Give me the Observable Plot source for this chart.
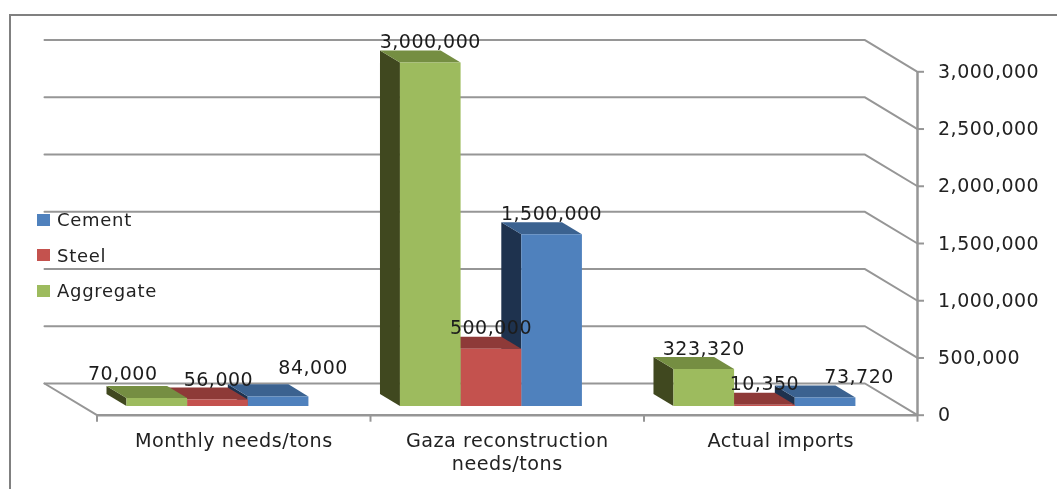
<!DOCTYPE html>
<html>
<head>
<meta charset="utf-8">
<script src="https://cdn.jsdelivr.net/npm/d3@7"></script>
<script src="https://cdn.jsdelivr.net/npm/@observablehq/plot@0.6"></script>
<style>
  html, body { margin: 0; padding: 0; background: #fff; overflow: hidden; }
  #chart { position: relative; width: 1057px; height: 489px; font-family: "DejaVu Sans", sans-serif; color: #222; }
  #chart svg { display: block; overflow: visible; filter: blur(0.35px); }
  #frame { position: absolute; left: 9px; top: 14px; right: 0; bottom: 0; border-left: 2.5px solid #808080; border-top: 2.5px solid #808080; pointer-events: none; }
  #legend { position: absolute; left: 37px; top: 202px; font-size: 18px; letter-spacing: 0.7px; filter: blur(0.35px); }
  #legend div { display: flex; align-items: center; height: 35.6px; }
  #legend i { display: inline-block; width: 13px; height: 12px; margin-right: 7px; }
</style>
</head>
<body>
<div id="chart"><div id="frame"></div><div id="legend"></div></div>
<script>
const categories = ["Monthly needs/tons", "Gaza reconstruction\nneeds/tons", "Actual imports"];
const seriesNames = ["Aggregate", "Steel", "Cement"];
const aggregate = [70000, 3000000, 323320];
const steel = [56000, 500000, 10350];
const cement = [84000, 1500000, 73720];
const yTicks = [0, 500000, 1000000, 1500000, 2000000, 2500000, 3000000];

const series = [aggregate, steel, cement];
const palette = [
  {front: "#9dbb5e", top: "#758e42", side: "#40481f"},
  {front: "#c4524e", top: "#8e3a38", side: "#652927"},
  {front: "#4f81bd", top: "#3b6290", side: "#1e324e"}
];

// oblique projection of the chart box, in scale units
const depthX = 0.192, depthY = 277000;
const barW = 0.2218, dFront = 0.29, dBack = 0.67, barNudge = -0.004;
const project = (x, v, d) => ({x: x - d * depthX, y: v + d * depthY});

const faces = [];
let faceId = 0;
const addFace = (color, pts) => { const id = faceId++; for (const p of pts) faces.push({...p, id, color}); };
categories.forEach((_, i) => {
  for (let k = 2; k >= 0; --k) {
    const v = series[k][i];
    const x0 = i + 0.5 + (k - 1.5) * barW + barNudge;
    const x1 = x0 + barW;
    const c = palette[k];
    addFace(c.side, [project(x0, 0, dFront), project(x0, v, dFront), project(x0, v, dBack), project(x0, 0, dBack)]);
    addFace(c.top, [project(x0, v, dFront), project(x1, v, dFront), project(x1, v, dBack), project(x0, v, dBack)]);
    addFace(c.front, [project(x0, 0, dFront), project(x1, 0, dFront), project(x1, v, dFront), project(x0, v, dFront)]);
  }
});

// wall and side gridlines
const grid = yTicks.flatMap(v => [
  {...project(0, v, 1), v}, {...project(3, v, 1), v}, {...project(3, v, 0), v}
]);
const floorEdge = [project(0, 0, 1), project(0, 0, 0)];
const gridColor = "#969696";

// value labels: moved by hand in the original for the small bars
const labelShift = {"0-0": [-34, -4], "0-1": [1, 1], "0-2": [35, -8], "2-2": [34, 0]};
const labelMarks = [];
categories.forEach((_, i) => {
  series.forEach((s, k) => {
    const x0 = i + 0.5 + (k - 1.5) * barW + barNudge;
    const [dx, dy] = labelShift[`${i}-${k}`] || [0, 0];
    labelMarks.push(Plot.text([s[i]], {
      x: () => x0 + barW / 2 - dFront * depthX,
      y: d => d + dBack * depthY,
      text: d => d3.format(",")(d),
      dx, dy: dy - 8.5,
      fontSize: 19, fill: "#1c1c1c"
    }));
  });
});

const plot = Plot.plot({
  width: 1057,
  height: 489,
  marginLeft: 96.5,
  marginRight: 140,
  marginTop: 71.3,
  marginBottom: 74.3,
  x: {domain: [0, 3], axis: null},
  y: {domain: [0, 3000000], axis: null},
  color: {type: "identity"},
  style: {fontFamily: '"DejaVu Sans", sans-serif', letterSpacing: "0.5px", background: "transparent"},
  marks: [
    Plot.line(grid, {x: "x", y: "y", z: "v", stroke: gridColor, strokeWidth: 2, curve: "linear"}),
    Plot.line(floorEdge, {x: "x", y: "y", stroke: gridColor, strokeWidth: 2}),
    Plot.ruleY([0], {stroke: gridColor, strokeWidth: 2.5}),
    Plot.ruleX([3], {y1: 0, y2: 3000000, stroke: gridColor, strokeWidth: 2.5}),
    Plot.axisX({ticks: [0, 1, 2, 3], tickFormat: () => "", tickSize: 7, stroke: gridColor, strokeWidth: 2, label: null}),
    Plot.axisY({anchor: "right", ticks: yTicks, tickFormat: d3.format(","), tickSize: 6, tickPadding: 14.5, stroke: gridColor, strokeWidth: 2, fill: "#222", fontSize: 19, label: null}),
    Plot.line(faces, {x: "x", y: "y", z: "id", fill: "color", stroke: "none", curve: "linear"}),
    ...labelMarks,
    Plot.text(categories, {
      x: (d, i) => i + 0.5,
      y: () => 0,
      text: d => d,
      dy: 15,
      lineAnchor: "top",
      lineHeight: 1.2,
      fontSize: 19.2,
      fill: "#222"
    })
  ]
});
const root = document.getElementById("chart");
root.insertBefore(plot, root.firstChild);

const legend = document.getElementById("legend");
[2, 1, 0].forEach(k => {
  const row = document.createElement("div");
  const sw = document.createElement("i");
  sw.style.background = palette[k].front;
  row.appendChild(sw);
  row.appendChild(document.createTextNode(seriesNames[k]));
  legend.appendChild(row);
});
</script>
</body>
</html>
